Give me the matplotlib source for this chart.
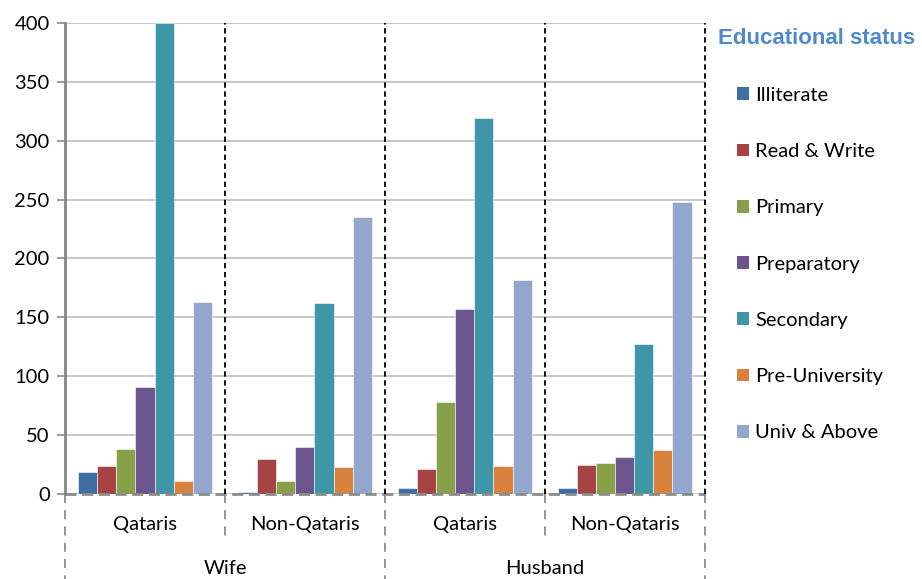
import numpy as np
import matplotlib
matplotlib.use("Agg")
import matplotlib.pyplot as plt
from matplotlib.patches import Patch

plt.rcParams['font.family'] = ['Lato', 'DejaVu Sans']

# counts by educational status for each spouse / nationality group
groups = ['Qataris', 'Non-Qataris', 'Qataris', 'Non-Qataris']
spouses = ['Wife', 'Husband']
levels = ['Illiterate', 'Read & Write', 'Primary', 'Preparatory',
          'Secondary', 'Pre-University', 'Univ & Above']
illiterate = [19, 2, 5, 5]
read_write = [24, 30, 21, 25]
primary = [38, 11, 78, 26]
preparatory = [91, 40, 157, 31]
secondary = [400, 162, 319, 127]
pre_university = [11, 23, 24, 37]
univ_above = [163, 235, 182, 248]
colors = ['#3E6FA3', '#A54442', '#87A14B', '#6C548C', '#4096A9', '#D9823E', '#93A7CE']

series = [illiterate, read_write, primary, preparatory,
          secondary, pre_university, univ_above]

FS = 14.5

fig = plt.figure(figsize=(9.22, 5.79), dpi=100)
ax = fig.add_axes([0.0705, 0.1468, 0.694, 0.8135])

n = len(groups)
width = 0.119
centers = np.arange(n) + 0.5
for j, (vals, c) in enumerate(zip(series, colors)):
    ax.bar(centers + (j - 3) * width, vals, width, color=c,
           edgecolor='white', linewidth=0.4, label=levels[j], zorder=3)

ax.set_xlim(0, n)
ax.set_ylim(0, 400)
ax.set_yticks(np.arange(0, 401, 50))
ax.yaxis.grid(True, color='#BEBEBE', linewidth=1.2, zorder=0)
ax.tick_params(axis='y', direction='out', length=6, width=1.2, color='#868686',
               labelsize=FS, pad=5)
ax.tick_params(axis='x', bottom=False, labelbottom=False)
for s in ['top', 'right', 'bottom']:
    ax.spines[s].set_visible(False)
ax.spines['left'].set_color('#868686')
ax.spines['left'].set_linewidth(2)

# dashed baseline and group separators
ax.plot([0, n], [0, 0], color='#8C8C8C', linestyle=(0, (4, 2)), linewidth=2,
        zorder=4, clip_on=False)
for x in range(1, n + 1):
    ax.plot([x, x], [0, 400], color='black', linestyle=(0, (3, 2)),
            linewidth=1.3, zorder=4, clip_on=False)

# category axis dividers below the plot
tr = ax.get_xaxis_transform()
for x in range(n + 1):
    bottom = -0.18 if x % 2 == 0 else -0.098
    ax.plot([x, x], [0, bottom], color='#8C8C8C', linestyle=(0, (5, 4)),
            linewidth=1.3, transform=tr, clip_on=False)

for c, g in zip(centers, groups):
    ax.text(c, -0.064, g, transform=tr, ha='center', va='center', fontsize=FS)
for i, sp in enumerate(spouses):
    ax.text(2 * i + 1, -0.158, sp, transform=tr, ha='center', va='center',
            fontsize=FS)

fig.text(0.7785, 0.934, 'Educational status', fontsize=16, fontweight='bold',
         color='#5089CB', family='Liberation Sans', ha='left', va='center')

handles = [Patch(facecolor=c, edgecolor='none', label=l) for c, l in zip(colors, levels)]
fig.legend(handles=handles, loc='upper left', bbox_to_anchor=(0.7995, 0.850),
           frameon=False, fontsize=FS, handlelength=0.6, handleheight=0.6,
           handletextpad=0.3, labelspacing=1.95, borderpad=0, borderaxespad=0)

fig.savefig('out.png', dpi=100)
